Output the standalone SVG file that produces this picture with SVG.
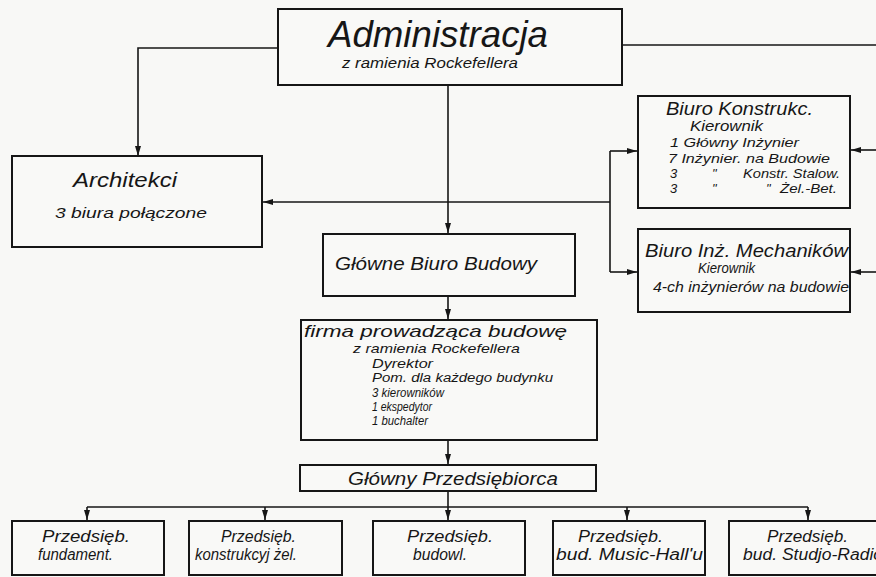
<svg xmlns="http://www.w3.org/2000/svg" width="876" height="577" viewBox="0 0 876 577">
<defs>
<style>
.bg{fill:#f8f8f6}
.box{fill:#f9f9f7;stroke:#161616;stroke-width:2}
.ln{fill:none;stroke:#161616;stroke-width:1.6}
text{font-family:"Liberation Sans",Arial,sans-serif;font-style:italic;fill:#161616}
.t{font-size:16px}
.s{font-size:14px}
.xs{font-size:12px}
</style>
<marker id="ah" markerUnits="userSpaceOnUse" markerWidth="10" markerHeight="8" viewBox="0 0 10 8" refX="10" refY="4" orient="auto">
<path d="M0,1 L10,4 L0,7 z" fill="#161616"/>
</marker>
</defs>
<rect class="bg" x="0" y="0" width="876" height="577"/>

<g id="connectors">
<path class="ln" d="M278,48 H138 V156" marker-end="url(#ah)"/>
<path class="ln" d="M622,45 H876"/>
<path class="ln" d="M448,85 V233" marker-end="url(#ah)"/>
<path class="ln" d="M610,202 H263" marker-end="url(#ah)"/>
<path class="ln" d="M610,151 V272"/>
<path class="ln" d="M610,151 H637" marker-end="url(#ah)"/>
<path class="ln" d="M610,272 H637" marker-end="url(#ah)"/>
<path class="ln" d="M876,150 H851" marker-end="url(#ah)"/>
<path class="ln" d="M876,272 H851" marker-end="url(#ah)"/>
<path class="ln" d="M448,296 V319" marker-end="url(#ah)"/>
<path class="ln" d="M448,440 V464" marker-end="url(#ah)"/>
<path class="ln" d="M448,491 V520" marker-end="url(#ah)"/>
<path class="ln" d="M87,507 H808"/>
<path class="ln" d="M87,507 V520" marker-end="url(#ah)"/>
<path class="ln" d="M265,507 V520" marker-end="url(#ah)"/>
<path class="ln" d="M627,507 V520" marker-end="url(#ah)"/>
<path class="ln" d="M808,507 V520" marker-end="url(#ah)"/>
</g>

<g id="administracja">
<rect class="box" x="278" y="9" width="344" height="76"/>
<text x="328" y="47" font-size="36" textLength="220" lengthAdjust="spacingAndGlyphs">Administracja</text>
<text x="342" y="68" class="s" textLength="176" lengthAdjust="spacingAndGlyphs">z ramienia  Rockefellera</text>
</g>

<g id="architekci">
<rect class="box" x="12" y="156" width="250" height="91"/>
<text x="73" y="187" font-size="20" textLength="104" lengthAdjust="spacingAndGlyphs">Architekci</text>
<text x="55" y="218" font-size="15" textLength="152" lengthAdjust="spacingAndGlyphs">3  biura  połączone</text>
</g>

<g id="biuro-konstrukc">
<rect class="box" x="638" y="96" width="212" height="112"/>
<text x="666" y="115" font-size="18" textLength="147" lengthAdjust="spacingAndGlyphs">Biuro Konstrukc.</text>
<text x="690" y="131" class="s" textLength="73" lengthAdjust="spacingAndGlyphs">Kierownik</text>
<text x="670" y="147" font-size="13" textLength="129" lengthAdjust="spacingAndGlyphs">1 Główny Inżynier</text>
<text x="668" y="163" font-size="13" textLength="162" lengthAdjust="spacingAndGlyphs">7 Inżynier. na Budowie</text>
<text x="670" y="178" font-size="13">3</text>
<text x="712" y="178" font-size="13">"</text>
<text x="743" y="178" font-size="13" textLength="97" lengthAdjust="spacingAndGlyphs">Konstr. Stalow.</text>
<text x="670" y="193" font-size="13">3</text>
<text x="712" y="193" font-size="13">"</text>
<text x="766" y="193" font-size="13">"</text>
<text x="780" y="193" font-size="13" textLength="57" lengthAdjust="spacingAndGlyphs">Żel.-Bet.</text>
</g>

<g id="biuro-mechanikow">
<rect class="box" x="638" y="229" width="212" height="83"/>
<text x="645" y="257" font-size="18" textLength="203" lengthAdjust="spacingAndGlyphs">Biuro Inż. Mechaników</text>
<text x="698" y="273" class="s" textLength="57" lengthAdjust="spacingAndGlyphs">Kierownik</text>
<text x="653" y="292" class="s" textLength="196" lengthAdjust="spacingAndGlyphs">4-ch inżynierów na budowie</text>
</g>

<g id="glowne-biuro">
<rect class="box" x="323" y="234" width="252" height="62"/>
<text x="335" y="270" font-size="19" textLength="202" lengthAdjust="spacingAndGlyphs">Główne  Biuro Budowy</text>
</g>

<g id="firma">
<rect class="box" x="301" y="320" width="296" height="120"/>
<text x="304" y="337" font-size="17" textLength="263" lengthAdjust="spacingAndGlyphs">firma   prowadząca   budowę</text>
<text x="353" y="353" font-size="13" textLength="167" lengthAdjust="spacingAndGlyphs">z ramienia Rockefellera</text>
<text x="372" y="368" class="xs" textLength="61" lengthAdjust="spacingAndGlyphs">Dyrektor</text>
<text x="372" y="382" class="xs" textLength="181" lengthAdjust="spacingAndGlyphs">Pom. dla każdego budynku</text>
<text x="372" y="397" class="xs" textLength="72" lengthAdjust="spacingAndGlyphs">3 kierowników</text>
<text x="372" y="411" class="xs" textLength="60" lengthAdjust="spacingAndGlyphs">1 ekspedytor</text>
<text x="372" y="425" class="xs" textLength="56" lengthAdjust="spacingAndGlyphs">1 buchalter</text>
</g>

<g id="glowny-przedsiebiorca">
<rect class="box" x="300" y="465" width="296" height="26"/>
<text x="348" y="485" font-size="18" textLength="210" lengthAdjust="spacingAndGlyphs">Główny  Przedsiębiorca</text>
</g>

<g id="p-fundament">
<rect class="box" x="12" y="521" width="152" height="54"/>
<text x="42" y="542" class="t" textLength="88" lengthAdjust="spacingAndGlyphs">Przedsięb.</text>
<text x="38" y="560" class="t" textLength="75" lengthAdjust="spacingAndGlyphs">fundament.</text>
</g>

<g id="p-konstrukcyj">
<rect class="box" x="189" y="521" width="153" height="54"/>
<text x="221" y="542" class="t" textLength="75" lengthAdjust="spacingAndGlyphs">Przedsięb.</text>
<text x="195" y="560" class="t" textLength="102" lengthAdjust="spacingAndGlyphs">konstrukcyj żel.</text>
</g>

<g id="p-budowl">
<rect class="box" x="373" y="521" width="152" height="54"/>
<text x="407" y="542" class="t" textLength="86" lengthAdjust="spacingAndGlyphs">Przedsięb.</text>
<text x="413" y="560" class="t" textLength="54" lengthAdjust="spacingAndGlyphs">budowl.</text>
</g>

<g id="p-music-hall">
<rect class="box" x="553" y="521" width="152" height="54"/>
<text x="578" y="542" class="t" textLength="85" lengthAdjust="spacingAndGlyphs">Przedsięb.</text>
<text x="556" y="560" class="t" textLength="147" lengthAdjust="spacingAndGlyphs">bud. Music-Hall'u</text>
</g>

<g id="p-studjo">
<rect class="box" x="729" y="521" width="160" height="54"/>
<text x="767" y="542" class="t" textLength="81" lengthAdjust="spacingAndGlyphs">Przedsięb.</text>
<text x="743" y="560" class="t" textLength="140" lengthAdjust="spacingAndGlyphs">bud. Studjo-Radio</text>
</g>
</svg>
